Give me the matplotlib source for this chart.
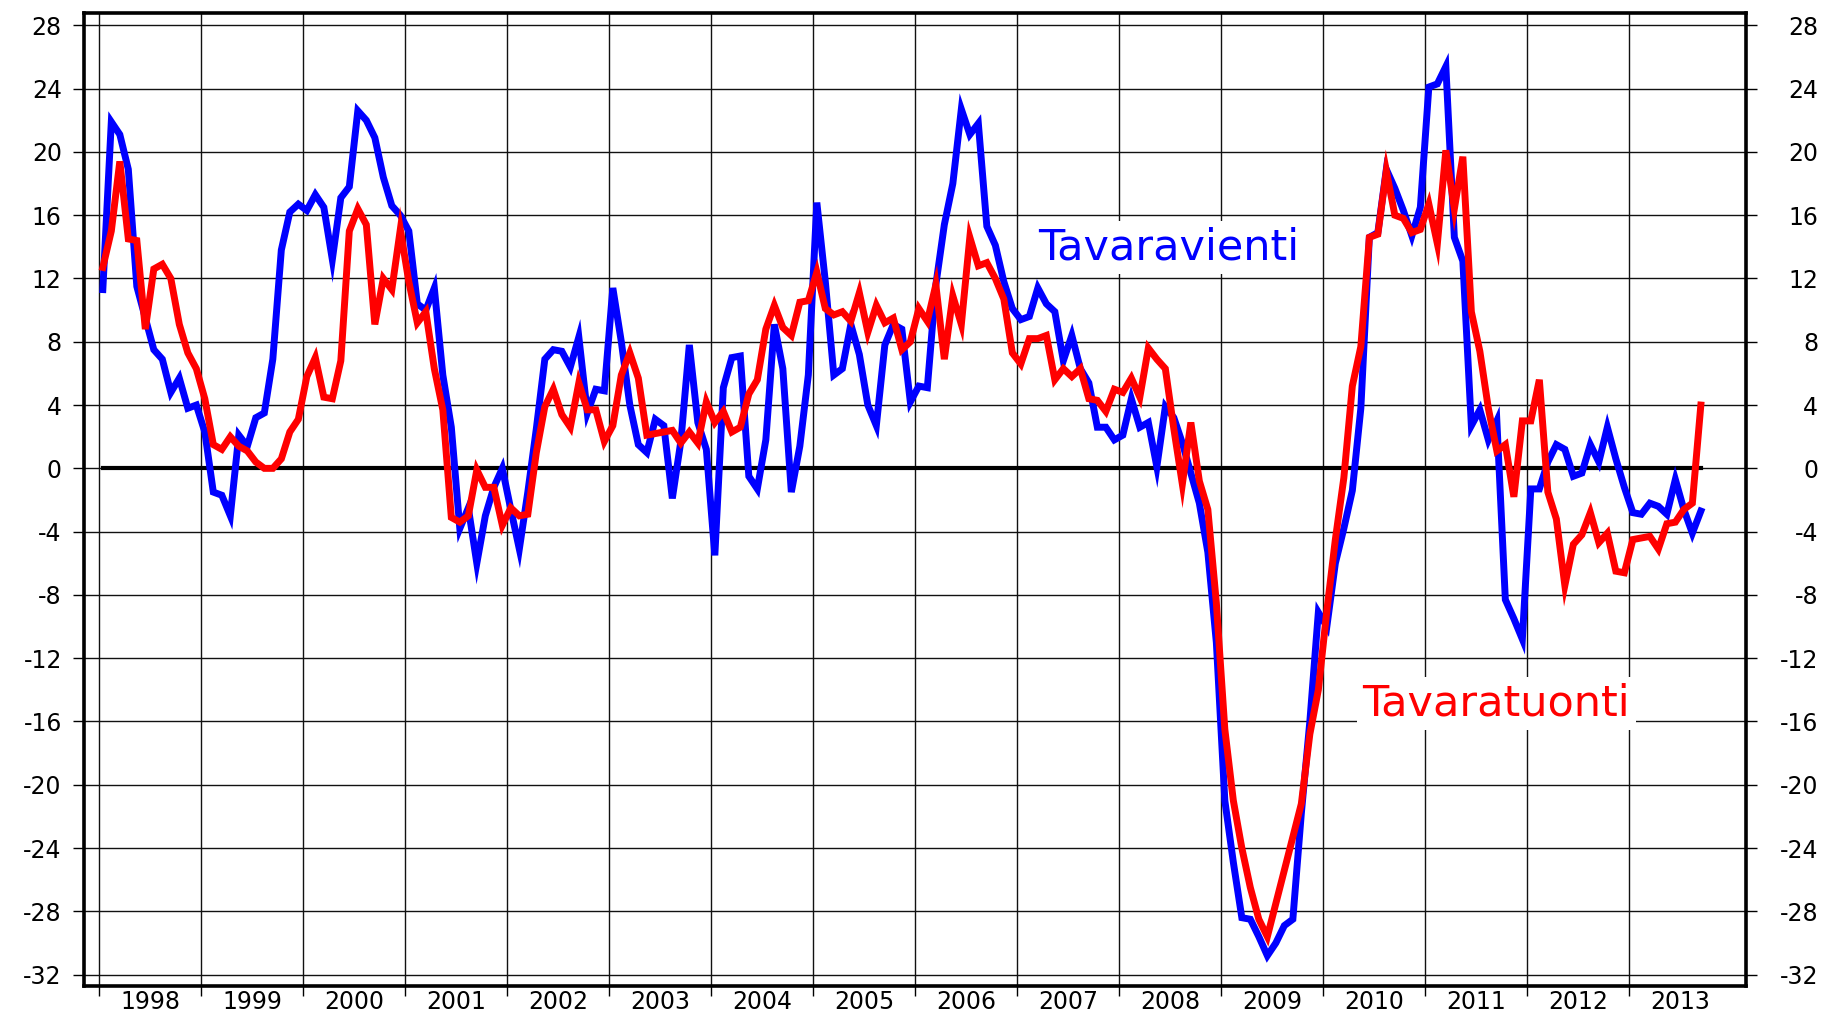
import numpy as np
import matplotlib
matplotlib.use("Agg")
import matplotlib.pyplot as plt

start_year = 1998
years = list(range(1998, 2014))
y_ticks = list(range(-32, 29, 4))

# Tavaravienti, monthly values Jan 1998 - Sep 2013
vienti = [
    11.3, 21.9, 21.1, 18.9, 11.5, 9.5, 7.5, 6.9, 4.8, 5.7, 3.8, 4.0,            # 1998
    2.3, -1.5, -1.7, -3.0, 2.1, 1.4, 3.2, 3.5, 6.9, 13.8, 16.2, 16.7,           # 1999
    16.3, 17.3, 16.5, 13.2, 17.1, 17.8, 22.6, 22.0, 20.9, 18.4, 16.6, 16.0,     # 2000
    15.0, 10.4, 10.0, 11.4, 5.9, 2.6, -3.8, -2.5, -6.0, -3.0, -1.2, 0.0,        # 2001
    -2.6, -5.1, -1.5, 2.5, 6.9, 7.5, 7.4, 6.4, 8.3, 3.5, 5.0, 4.9,              # 2002
    11.4, 8.0, 4.0, 1.5, 1.0, 3.1, 2.7, -1.9, 1.7, 7.8, 2.9, 1.2,               # 2003
    -5.5, 5.1, 7.0, 7.1, -0.5, -1.3, 1.8, 9.1, 6.3, -1.5, 1.4, 5.9,             # 2004
    16.8, 11.8, 5.9, 6.3, 9.1, 7.2, 4.0, 2.7, 7.8, 9.1, 8.8, 4.2,               # 2005
    5.2, 5.1, 11.6, 15.4, 18.0, 22.7, 21.1, 21.8, 15.3, 14.1, 11.8, 10.1,       # 2006
    9.4, 9.6, 11.4, 10.4, 9.9, 6.8, 8.4, 6.3, 5.4, 2.6, 2.6, 1.8,               # 2007
    2.1, 4.4, 2.6, 2.9, 0.1, 3.9, 3.2, 1.6, -0.3, -2.2, -5.3, -11.0,            # 2008
    -21.0, -24.9, -28.4, -28.5, -29.6, -30.8, -30.0, -28.9, -28.5, -21.8, -16.0, -9.1,  # 2009
    -10.0, -6.0, -3.8, -1.4, 3.8, 14.6, 14.9, 18.9, 17.7, 16.3, 14.7, 16.5,     # 2010
    24.1, 24.3, 25.4, 14.6, 13.1, 2.7, 3.7, 1.8, 3.0, -8.3, -9.5, -10.8,        # 2011
    -1.3, -1.3, 0.4, 1.5, 1.2, -0.5, -0.3, 1.5, 0.4, 2.6, 0.6, -1.2,            # 2012
    -2.8, -2.9, -2.2, -2.4, -2.9, -0.7, -2.6, -4.1, -2.7,                       # 2013
]

# Tavaratuonti, monthly values Jan 1998 - Sep 2013
tuonti = [
    12.7, 15.0, 19.4, 14.5, 14.4, 8.8, 12.6, 12.9, 12.0, 9.1, 7.3, 6.3,         # 1998
    4.4, 1.5, 1.2, 2.0, 1.4, 1.1, 0.4, 0.0, 0.0, 0.6, 2.3, 3.1,                 # 1999
    5.8, 7.0, 4.5, 4.4, 6.8, 15.0, 16.4, 15.4, 9.1, 12.0, 11.3, 15.1,           # 2000
    11.8, 9.2, 9.9, 6.3, 3.7, -3.1, -3.4, -3.0, -0.1, -1.2, -1.2, -3.6,         # 2001
    -2.5, -3.0, -2.9, 1.0, 3.9, 5.0, 3.4, 2.6, 5.4, 3.7, 3.7, 1.7,              # 2002
    2.7, 5.9, 7.3, 5.7, 2.1, 2.2, 2.3, 2.4, 1.6, 2.3, 1.6, 4.2,                 # 2003
    2.9, 3.6, 2.3, 2.6, 4.7, 5.6, 8.8, 10.3, 8.9, 8.4, 10.5, 10.6,              # 2004
    12.4, 10.1, 9.7, 9.9, 9.3, 11.1, 8.6, 10.3, 9.2, 9.5, 7.5, 8.0,             # 2005
    10.1, 9.3, 11.6, 6.9, 10.9, 9.1, 14.6, 12.8, 13.0, 12.0, 10.7, 7.3,         # 2006
    6.6, 8.2, 8.2, 8.4, 5.6, 6.3, 5.8, 6.3, 4.4, 4.3, 3.6, 5.0,                 # 2007
    4.8, 5.7, 4.5, 7.6, 6.9, 6.3, 2.5, -1.0, 2.9, -0.8, -2.6, -8.5,             # 2008
    -16.5, -21.0, -24.0, -26.5, -28.5, -29.6, -27.5, -25.4, -23.3, -21.2, -16.8, -14.0,  # 2009
    -9.0, -4.5, -0.6, 5.2, 7.7, 14.6, 14.8, 18.8, 16.0, 15.8, 14.9, 15.1,       # 2010
    16.7, 14.2, 20.1, 16.4, 19.7, 9.9, 7.4, 3.8, 1.1, 1.5, -1.8, 3.0,           # 2011
    3.0, 5.6, -1.5, -3.2, -7.4, -4.8, -4.2, -2.8, -4.7, -4.1, -6.5, -6.6,       # 2012
    -4.5, -4.4, -4.3, -5.1, -3.5, -3.4, -2.6, -2.2, 4.0,                        # 2013
]

x = start_year + (np.arange(len(vienti)) + 0.45) / 12

fig = plt.figure(figsize=(18.22, 10.16), dpi=100)
ax = fig.add_axes([0.0461, 0.0295, 0.9122, 0.958])

ax.set_xlim(1997.853, 2014.147)
ax.set_ylim(-32.72, 28.8)

# grid
ax.set_yticks(y_ticks)
ax.set_yticklabels([str(v) for v in y_ticks])
ax.set_xticks(years)
ax.set_xticklabels([])
ax.set_xticks([yr + 0.5 for yr in years], minor=True)
ax.set_xticklabels([str(yr) for yr in years], minor=True)
ax.grid(True, which="major", color="#111111", linewidth=1.0, zorder=1)
ax.set_axisbelow(True)

ax.tick_params(axis="x", which="major", direction="out", length=7, width=1.0)
ax.tick_params(axis="x", which="minor", length=0, pad=3, labelsize=17)
ax.tick_params(axis="y", direction="out", length=8, width=1.0, pad=8, labelsize=17)

for sp in ax.spines.values():
    sp.set_linewidth(2.6)
    sp.set_color("black")

# zero line over the data range
ax.plot([x[0], x[-1]], [0, 0], color="black", linewidth=3.0, zorder=2)

ax.plot(x, vienti, color="#0000ff", linewidth=5, solid_joinstyle="miter", zorder=3)
ax.plot(x, tuonti, color="#ff0000", linewidth=5, solid_joinstyle="miter", zorder=4)

ax.text(2008.485, 13.2, "Tavaravienti", color="#0000ff", fontsize=31,
        ha="center", va="baseline", zorder=5,
        bbox=dict(facecolor="white", edgecolor="none", pad=4))
ax.text(2011.70, -15.6, "Tavaratuonti", color="#ff0000", fontsize=31,
        ha="center", va="baseline", zorder=5,
        bbox=dict(facecolor="white", edgecolor="none", pad=4))

# right hand labels
ax2 = ax.twinx()
ax2.set_ylim(ax.get_ylim())
ax2.set_yticks(y_ticks)
ax2.set_yticklabels([str(v) for v in y_ticks])
ax2.tick_params(axis="y", direction="out", length=8, width=1.0, pad=44, labelsize=17)
for lab in ax2.get_yticklabels():
    lab.set_horizontalalignment("right")
for sp in ax2.spines.values():
    sp.set_visible(False)

fig.savefig("out.png", dpi=100)
